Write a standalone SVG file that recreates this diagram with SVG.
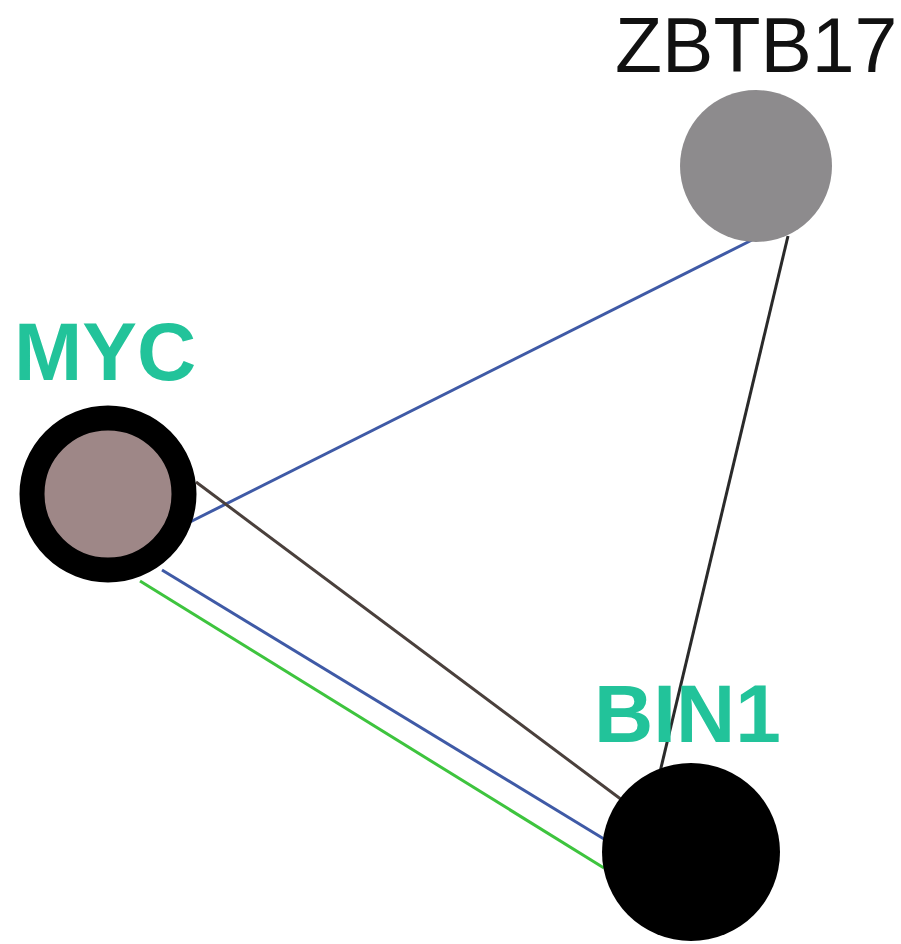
<svg xmlns="http://www.w3.org/2000/svg" width="901" height="944" viewBox="0 0 901 944">
<style>
.lbl{font-family:"Liberation Sans",Arial,sans-serif;}
.hub{font-weight:bold;fill:#22c39a;font-size:82px;}
.plain{fill:#111;font-size:77px;}
.e{fill:none;stroke-width:3;}
</style>
<rect width="901" height="944" fill="#fff"/>
<g id="connectors">
<line class="e" x1="190" y1="522" x2="752" y2="240" stroke="#3f5aa6"/>
<line class="e" x1="788" y1="236" x2="660" y2="772" stroke="#2a2a2a"/>
<line class="e" x1="196" y1="482" x2="622" y2="800" stroke="#4a403c"/>
<line class="e" x1="162" y1="570" x2="604" y2="839" stroke="#3f5aa6"/>
<line class="e" x1="140" y1="581" x2="604" y2="868" stroke="#3ec43e"/>
</g>
<g id="node-ZBTB17">
<circle cx="756" cy="166" r="76" fill="#8d8b8d"/>
<text class="lbl plain" x="615" y="72">ZBTB17</text>
</g>
<g id="node-MYC">
<circle cx="108" cy="494" r="76" fill="#9e8787" stroke="#000" stroke-width="25"/>
<text class="lbl hub" x="14" y="380">MYC</text>
</g>
<g id="node-BIN1">
<circle cx="691" cy="852" r="89" fill="#000"/>
<text class="lbl hub" x="594" y="742">BIN1</text>
</g>
</svg>
